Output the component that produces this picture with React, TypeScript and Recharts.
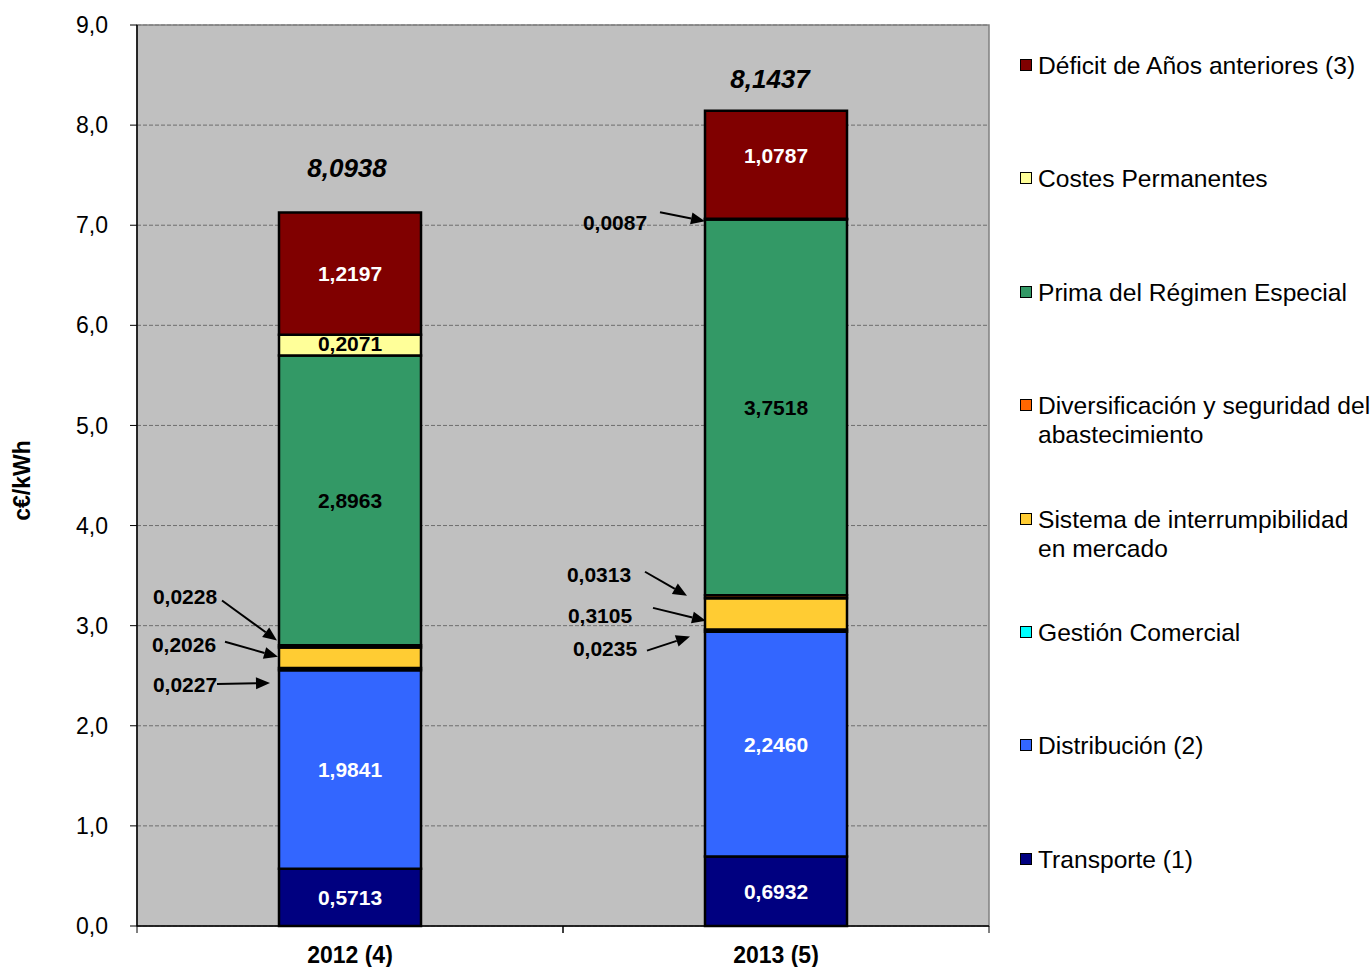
import React from 'react';
import { BarChart, Bar, XAxis, YAxis, CartesianGrid, LabelList, ReferenceArea } from 'recharts';

const categories = ['2012 (4)', '2013 (5)'];
const transporte = [0.5713, 0.6932];
const distribucion = [1.9841, 2.246];
const gestionComercial = [0.0227, 0.0235];
const interrumpibilidad = [0.2026, 0.3105];
const diversificacion = [0.0228, 0.0313];
const primaRegimen = [2.8963, 3.7518];
const costesPermanentes = [0.2071, 0.0087];
const deficit = [1.2197, 1.0787];
const totals = [8.0938, 8.1437];
const yTicks = [0, 1, 2, 3, 4, 5, 6, 7, 8, 9];

const FONT = "'Liberation Sans', Arial, sans-serif";

const series = [
  { key: 'transporte', name: 'Transporte (1)', values: transporte, color: '#000080', text: '#fff' },
  { key: 'distribucion', name: 'Distribución (2)', values: distribucion, color: '#3366FF', text: '#fff' },
  { key: 'gestion', name: 'Gestión Comercial', values: gestionComercial, color: '#00FFFF', text: '#000' },
  { key: 'interrumpibilidad', name: 'Sistema de interrumpibilidad en mercado', values: interrumpibilidad, color: '#FFCC33', text: '#000' },
  { key: 'diversificacion', name: 'Diversificación y seguridad del abastecimiento', values: diversificacion, color: '#FF6600', text: '#000' },
  { key: 'prima', name: 'Prima del Régimen Especial', values: primaRegimen, color: '#339966', text: '#000' },
  { key: 'costes', name: 'Costes Permanentes', values: costesPermanentes, color: '#FFFF99', text: '#000' },
  { key: 'deficit', name: 'Déficit de Años anteriores (3)', values: deficit, color: '#800000', text: '#fff' },
];

const data = categories.map((category, i) => {
  const row: Record<string, any> = { category, total: totals[i] };
  series.forEach((s) => (row[s.key] = s.values[i]));
  return row;
});

// callouts for thin segments: text centre, arrow start and tip, relative to bar left edge / segment centre
const callouts: Record<string, { tx: number; ty: number; sx: number; sy: number; ex: number; ey: number }> = {
  'diversificacion-0': { tx: -94, ty: -50, sx: -57, sy: -46, ex: -2, ey: -6 },
  'interrumpibilidad-0': { tx: -95, ty: -13, sx: -54, sy: -16, ex: -1, ey: -1 },
  'gestion-0': { tx: -94, ty: 15, sx: -62, sy: 15, ex: -9, ey: 14 },
  'costes-1': { tx: -90, ty: 3, sx: -45, sy: -7, ex: 0, ey: 2 },
  'diversificacion-1': { tx: -106, ty: -22, sx: -60, sy: -25, ex: -18, ey: -1 },
  'interrumpibilidad-1': { tx: -105, ty: 2, sx: -52, sy: -6, ex: 1, ey: 7 },
  'gestion-1': { tx: -100, ty: 18, sx: -58, sy: 20, ex: -15, ey: 6 },
};
const innerShift: Record<string, number> = { 'deficit-1': -9, 'costes-0': -2 };
const totalShift = [
  { dx: -3, dy: -45 },
  { dx: -6, dy: -32 },
];

const fmt = (v: number, d: number) => v.toFixed(d).replace('.', ',');

function Arrow({ sx, sy, ex, ey }: { sx: number; sy: number; ex: number; ey: number }) {
  const len = Math.hypot(ex - sx, ey - sy);
  const ux = (ex - sx) / len;
  const uy = (ey - sy) / len;
  const hl = 14;
  const hw = 6;
  const bx = ex - ux * hl;
  const by = ey - uy * hl;
  const pts = `${ex},${ey} ${bx - uy * hw},${by + ux * hw} ${bx + uy * hw},${by - ux * hw}`;
  return (
    <g>
      <line x1={sx} y1={sy} x2={bx} y2={by} stroke="#000" strokeWidth={2} />
      <polygon points={pts} fill="#000" />
    </g>
  );
}

function makeLabel(key: string, color: string) {
  return (props: any) => {
    const { x, y, width, height, value, index } = props;
    const id = `${key}-${index}`;
    const cy = y + height / 2;
    const c = callouts[id];
    if (c) {
      return (
        <g>
          <text x={x + c.tx} y={cy + c.ty} textAnchor="middle" dominantBaseline="central"
            fontFamily={FONT} fontWeight="bold" fontSize={21} fill="#000">
            {fmt(value, 4)}
          </text>
          <Arrow sx={x + c.sx} sy={cy + c.sy} ex={x + c.ex} ey={cy + c.ey} />
        </g>
      );
    }
    return (
      <text x={x + width / 2} y={cy + (innerShift[id] || 0)} textAnchor="middle" dominantBaseline="central"
        fontFamily={FONT} fontWeight="bold" fontSize={21} fill={color}>
        {fmt(value, 4)}
      </text>
    );
  };
}

function TotalLabel(props: any) {
  const { x, y, width, value, index } = props;
  const s = totalShift[index] || { dx: 0, dy: -40 };
  return (
    <text x={x + width / 2 + s.dx} y={y + s.dy} textAnchor="middle" dominantBaseline="central"
      fontFamily={FONT} fontWeight="bold" fontStyle="italic" fontSize={26} fill="#000">
      {fmt(value, 4)}
    </text>
  );
}

// category tick: bold label plus tick marks on the band boundaries
function CategoryTick(props: any) {
  const { x, y, payload, width, visibleTicksCount } = props;
  const half = width / (visibleTicksCount || 1) / 2;
  const axisY = y - 21;
  return (
    <g>
      <line x1={x - half} y1={axisY} x2={x - half} y2={axisY + 7} stroke="#000" />
      <line x1={x + half} y1={axisY} x2={x + half} y2={axisY + 7} stroke="#000" />
      <text x={x} y={y} dy="0.71em" textAnchor="middle" fontFamily={FONT} fontWeight="bold" fontSize={23} fill="#000">
        {payload.value}
      </text>
    </g>
  );
}

function YTitle(props: any) {
  const { x, y, height } = props.viewBox;
  const cx = x + 22;
  const cy = y + height / 2 + 5;
  return (
    <text x={cx} y={cy} transform={`rotate(-90, ${cx}, ${cy})`} textAnchor="middle" dominantBaseline="central"
      fontFamily={FONT} fontWeight="bold" fontSize={23} fill="#000">
      c€/kWh
    </text>
  );
}

export default function App() {
  const legendItems = [...series].reverse();
  return (
    <div style={{ position: 'absolute', left: 0, top: 0, width: 1372, height: 967, background: '#fff' }}>
      <BarChart width={1372} height={967} data={data} margin={{ top: 25, right: 383, bottom: 0, left: 0 }} barSize={142}>
        <CartesianGrid vertical={false} fill="#C0C0C0" stroke="#6e6e6e" strokeDasharray="4 2" />
        <ReferenceArea y1={0} y2={9} fill="none" stroke="#808080" strokeWidth={1.5} ifOverflow="visible" />
        <XAxis dataKey="category" height={41} tickLine={false} tickSize={0} tickMargin={21}
          axisLine={{ stroke: '#000', strokeWidth: 1.5 }} tick={<CategoryTick />} />
        <YAxis type="number" domain={[0, 9]} ticks={yTicks} interval={0} width={137} tickSize={7} tickMargin={22}
          tickFormatter={(v: number) => fmt(v, 1)}
          axisLine={{ stroke: '#000', strokeWidth: 1.5 }} tickLine={{ stroke: '#000' }}
          tick={{ fill: '#000', fontSize: 23, fontFamily: FONT }}
          label={{ content: YTitle }} />
        {series.map((s) => (
          <Bar key={s.key} dataKey={s.key} name={s.name} stackId="a" fill={s.color} stroke="#000" strokeWidth={2.5}
            isAnimationActive={false}>
            <LabelList dataKey={s.key} content={makeLabel(s.key, s.text)} />
            {s.key === 'deficit' && <LabelList dataKey="total" content={TotalLabel} />}
          </Bar>
        ))}
      </BarChart>
      <div style={{ position: 'absolute', left: 1018, top: 51, width: 354, fontFamily: FONT, fontSize: 24.6, lineHeight: '29px', color: '#000' }}>
        {legendItems.map((s) => (
          <div key={s.key} style={{ height: 113.4, display: 'flex', alignItems: 'flex-start' }}>
            <div style={{ width: 10, height: 10, marginTop: 8, marginLeft: 2, marginRight: 6, background: s.color, border: '1.5px solid #000', flexShrink: 0 }} />
            <div style={{ width: 340 }}>{s.name}</div>
          </div>
        ))}
      </div>
    </div>
  );
}
